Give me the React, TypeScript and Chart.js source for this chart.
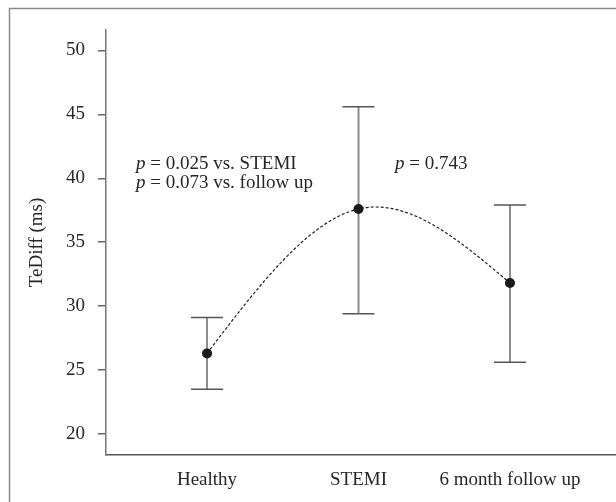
import React, { useEffect, useRef } from "react";
import { Chart, registerables } from "chart.js";

Chart.register(...registerables);

const categories = ["Healthy", "STEMI", "6 month follow up"];
const means = [26.3, 37.6, 31.8];
const lowerCI = [23.5, 29.4, 25.6];
const upperCI = [29.1, 45.6, 37.9];
const yTicks = [20, 25, 30, 35, 40, 45, 50];
const yLabel = "TeDiff (ms)";
const annotations = [
  { p: "p", rest: " = 0.025 vs. STEMI", x: 136, y: 169 },
  { p: "p", rest: " = 0.073 vs. follow up", x: 136, y: 187.5 },
  { p: "p", rest: " = 0.743", x: 395, y: 169 },
];

const FONT = "'Liberation Serif', 'Times New Roman', serif";
const TEXT = "#262626";

// natural cubic spline second derivatives (x = index, unit spacing)
function naturalSlopes(ys: number[]): number[] {
  const n = ys.length;
  if (n < 3) {
    const s = n === 2 ? ys[1] - ys[0] : 0;
    return ys.map(() => s);
  }
  const M = new Array(n).fill(0);
  // Thomas algorithm for interior: M[i-1] + 4M[i] + M[i+1] = 6(y[i+1]-2y[i]+y[i-1])
  const m = n - 2;
  const a = new Array(m).fill(1);
  const b = new Array(m).fill(4);
  const c = new Array(m).fill(1);
  const d = new Array(m).fill(0).map((_, k) => 6 * (ys[k + 2] - 2 * ys[k + 1] + ys[k]));
  for (let k = 1; k < m; k++) {
    const w = a[k] / b[k - 1];
    b[k] -= w * c[k - 1];
    d[k] -= w * d[k - 1];
  }
  const sol = new Array(m).fill(0);
  sol[m - 1] = d[m - 1] / b[m - 1];
  for (let k = m - 2; k >= 0; k--) sol[k] = (d[k] - c[k] * sol[k + 1]) / b[k];
  for (let k = 0; k < m; k++) M[k + 1] = sol[k];
  const D = new Array(n).fill(0);
  for (let i = 0; i < n - 1; i++) {
    D[i] = ys[i + 1] - ys[i] - (2 * M[i] + M[i + 1]) / 6;
  }
  D[n - 1] = ys[n - 1] - ys[n - 2] + (M[n - 2] + 2 * M[n - 1]) / 6;
  return D;
}

export default function App() {
  const ref = useRef<HTMLCanvasElement | null>(null);
  useEffect(() => {
    if (!ref.current) return;
    const framePlugin = {
      id: "frame",
      beforeDraw(chart: any) {
        const ctx = chart.ctx;
        ctx.save();
        ctx.strokeStyle = "#8a8a8a";
        ctx.lineWidth = 1.5;
        ctx.beginPath();
        ctx.moveTo(9.5, 502);
        ctx.lineTo(9.5, 8.5);
        ctx.lineTo(616, 8.5);
        ctx.stroke();
        ctx.restore();
      },
    };
    const errPlugin = {
      id: "errbars",
      beforeDatasetsDraw(chart: any) {
        const ctx = chart.ctx;
        const xs = chart.scales.x;
        const ys = chart.scales.y;
        ctx.save();
        for (let i = 0; i < means.length; i++) {
          const x = xs.getPixelForValue(i);
          const yl = ys.getPixelForValue(lowerCI[i]);
          const yh = ys.getPixelForValue(upperCI[i]);
          ctx.strokeStyle = "#8c8c8c";
          ctx.lineWidth = 2;
          ctx.beginPath();
          ctx.moveTo(x, yl);
          ctx.lineTo(x, yh);
          ctx.stroke();
          ctx.strokeStyle = "#555";
          ctx.lineWidth = 1.5;
          ctx.beginPath();
          ctx.moveTo(x - 16, yl);
          ctx.lineTo(x + 16, yl);
          ctx.moveTo(x - 16, yh);
          ctx.lineTo(x + 16, yh);
          ctx.stroke();
        }
        // dashed natural spline through the means
        const D = naturalSlopes(means);
        ctx.strokeStyle = "#222";
        ctx.lineWidth = 1.2;
        ctx.setLineDash([3, 2]);
        ctx.beginPath();
        ctx.moveTo(xs.getPixelForValue(0), ys.getPixelForValue(means[0]));
        for (let i = 0; i < means.length - 1; i++) {
          const c1x = xs.getPixelForValue(i + 1 / 3);
          const c1y = ys.getPixelForValue(means[i] + D[i] / 3);
          const c2x = xs.getPixelForValue(i + 2 / 3);
          const c2y = ys.getPixelForValue(means[i + 1] - D[i + 1] / 3);
          ctx.bezierCurveTo(c1x, c1y, c2x, c2y, xs.getPixelForValue(i + 1), ys.getPixelForValue(means[i + 1]));
        }
        ctx.stroke();
        ctx.restore();
      },
    };
    const annPlugin = {
      id: "ann",
      afterDatasetsDraw(chart: any) {
        const ctx = chart.ctx;
        ctx.save();
        ctx.fillStyle = TEXT;
        ctx.textBaseline = "alphabetic";
        ctx.textAlign = "left";
        for (const a of annotations) {
          ctx.font = `italic 19px ${FONT}`;
          ctx.fillText(a.p, a.x, a.y);
          const w = ctx.measureText(a.p).width;
          ctx.font = `19px ${FONT}`;
          ctx.fillText(a.rest, a.x + w, a.y);
        }
        ctx.restore();
      },
    };
    const chart = new Chart(ref.current, {
      type: "line",
      data: {
        datasets: [
          {
            data: means.map((v, i) => ({ x: i, y: v })),
            showLine: false,
            pointRadius: 5,
            pointHoverRadius: 5,
            pointBackgroundColor: "#1a1a1a",
            pointBorderColor: "#1a1a1a",
            pointBorderWidth: 0,
            fill: false,
            clip: false,
          },
        ],
      },
      options: {
        animation: false,
        responsive: false,
        devicePixelRatio: 1,
        layout: { autoPadding: false, padding: { top: 30, left: 0, right: 0, bottom: 0 } },
        plugins: { legend: { display: false }, tooltip: { enabled: false } },
        scales: {
          x: {
            type: "linear",
            min: -0.667,
            max: 2.7,
            afterBuildTicks(scale: any) {
              scale.ticks = categories.map((_, i) => ({ value: i }));
            },
            afterFit(scale: any) {
              scale.height = 47;
            },
            grid: { display: false, drawTicks: false },
            border: { display: true, color: "#555", width: 1.5 },
            ticks: {
              padding: 14,
              color: TEXT,
              font: { family: FONT, size: 19 },
              maxRotation: 0,
              callback: (v: any) => categories[v] ?? "",
            },
          },
          y: {
            type: "linear",
            min: 18.35,
            max: 51.6,
            afterBuildTicks(scale: any) {
              scale.ticks = yTicks.map((v) => ({ value: v }));
            },
            afterFit(scale: any) {
              scale.width = 106;
            },
            grid: { drawOnChartArea: false, drawTicks: true, tickLength: 8, color: "#666", lineWidth: 1.5 },
            border: { display: true, color: "#777", width: 1.5 },
            ticks: {
              padding: 13,
              color: TEXT,
              font: { family: FONT, size: 19 },
            },
            title: {
              display: true,
              text: yLabel,
              color: TEXT,
              font: { family: FONT, size: 19 },
              padding: { top: 26, bottom: 0 },
            },
          },
        },
      },
      plugins: [framePlugin, errPlugin, annPlugin],
    } as any);
    return () => chart.destroy();
  }, []);
  return (
    <div style={{ position: "fixed", left: 0, top: 0, width: 616, height: 502, background: "#fff" }}>
      <canvas ref={ref} width={616} height={502} style={{ display: "block" }} />
    </div>
  );
}
